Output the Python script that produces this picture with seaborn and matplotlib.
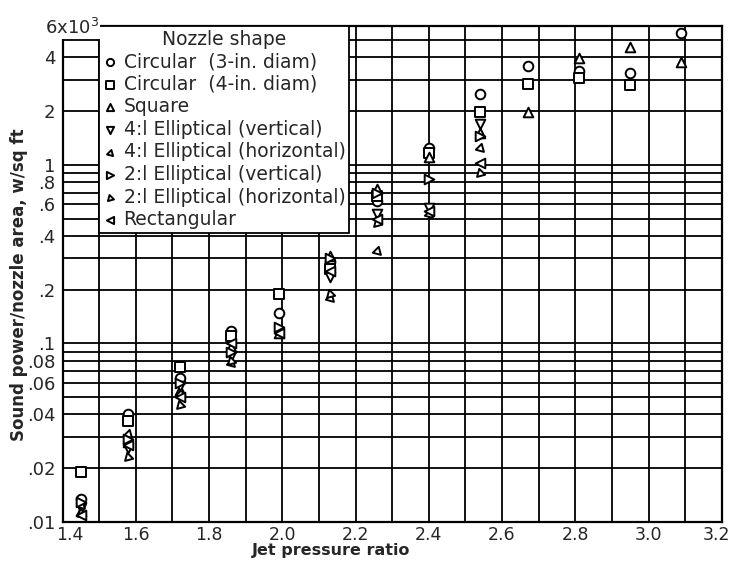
import numpy as np
import pandas as pd
import matplotlib
matplotlib.use("Agg")
import matplotlib.pyplot as plt
import matplotlib.transforms as mtrans
import seaborn as sns

# jet pressure ratios where data were taken
pressure_ratio = [1.45, 1.58, 1.72, 1.86, 1.99, 2.13, 2.26, 2.40, 2.54, 2.67, 2.81, 2.95, 3.09]

# sound power / nozzle area, units of 10^3 w/sq ft
nan = np.nan
circ_3in = [0.0135, 0.040, 0.064, 0.118, 0.149, 0.285, 0.63, 1.25, 2.5, 3.6, 3.35, 3.25, 5.5]
circ_4in = [0.019, 0.037, 0.074, 0.110, 0.188, 0.26, 0.67, 1.17, 1.98, 2.85, 3.05, 2.8, nan]
square = [0.0115, 0.028, 0.055, 0.095, 0.114, 0.31, 0.73, 1.11, 1.5, 1.98, 3.95, 4.6, 3.75]
ell41_vert = [0.012, 0.026, 0.058, 0.085, nan, 0.235, 0.53, 0.57, 1.7, nan, nan, nan, nan]
ell41_horiz = [0.0125, 0.031, 0.052, 0.078, nan, 0.18, 0.33, 0.53, 1.25, nan, nan, nan, nan]
ell21_vert = [0.013, 0.029, 0.060, 0.090, 0.123, 0.30, 0.70, 0.83, 1.45, nan, nan, nan, nan]
ell21_horiz = [0.0112, 0.023, 0.045, 0.080, nan, 0.19, 0.47, nan, 0.90, nan, nan, nan, nan]
rectangular = [0.011, 0.027, 0.050, 0.100, 0.114, 0.255, 0.50, 0.55, 1.03, nan, nan, nan, nan]

shape_names = ["Circular  (3-in. diam)", "Circular  (4-in. diam)", "Square",
               "4:l Elliptical (vertical)", "4:l Elliptical (horizontal)",
               "2:l Elliptical (vertical)", "2:l Elliptical (horizontal)", "Rectangular"]
shape_values = [circ_3in, circ_4in, square, ell41_vert, ell41_horiz,
                ell21_vert, ell21_horiz, rectangular]
shape_markers = ["o", "s", "^", "v", (3, 0, 225), ">", (3, 0, 135), "<"]

ytick_vals = [0.01, 0.02, 0.04, 0.06, 0.08, 0.1, 0.2, 0.4, 0.6, 0.8, 1, 2, 4]
ytick_text = [".01", ".02", ".04", ".06", ".08", ".1", ".2", ".4", ".6", ".8", "1", "2", "4"]
xtick_vals = [1.4, 1.6, 1.8, 2.0, 2.2, 2.4, 2.6, 2.8, 3.0, 3.2]
xtick_text = ["1.4", "1.6", "1.8", "2.0", "2.2", "2.4", "2.6", "2.8", "3.0", "3.2"]

sns.set_style("white")
plt.rcParams["font.family"] = ["DejaVu Sans"]

fig = plt.figure(figsize=(7.32, 5.63), dpi=100)
ax = fig.add_axes([0.0854, 0.0728, 0.9006, 0.8812])

for name, vals, mk in zip(shape_names, shape_values, shape_markers):
    df = pd.DataFrame({"pr": pressure_ratio, "w": vals}).dropna()
    sns.scatterplot(data=df, x="pr", y="w", marker=mk, s=48, color="black",
                    facecolor="white", edgecolor="black", linewidth=1.4,
                    label=name, ax=ax, zorder=3)

ax.set_yscale("log")
ax.set_xlim(1.4, 3.2)
ax.set_ylim(0.01, 6)

# hand-ruled style grid: every 0.1 in x, every minor step in y
for xv in np.arange(1.4, 3.21, 0.1):
    ax.axvline(xv, color="black", lw=1.3, zorder=1)
grid_y = [m * 10.0 ** d for d in (-2, -1, 0) for m in range(1, 10)]
for yv in grid_y:
    if yv <= 6:
        ax.axhline(yv, color="black", lw=1.3, zorder=1)

ax.set_yticks(ytick_vals)
ax.set_yticklabels(ytick_text)
ax.yaxis.set_minor_locator(matplotlib.ticker.NullLocator())
ax.set_xticks(xtick_vals)
ax.set_xticklabels(xtick_text)
ax.tick_params(length=0, labelsize=13)
ax.tick_params(axis="x", pad=3, labelsize=12.5)
ax.tick_params(axis="y", pad=5)

# nudge the end labels so they stay inside the sheet
xl = ax.get_xticklabels()
xl[0].set_transform(xl[0].get_transform() + mtrans.ScaledTranslation(5 / 72, 0, fig.dpi_scale_trans))
xl[-1].set_transform(xl[-1].get_transform() + mtrans.ScaledTranslation(-4 / 72, 0, fig.dpi_scale_trans))

# top label carries the multiplier
fig.text(45 / 732, 1 - 34 / 563, "6x10$^3$", fontsize=13, ha="left", va="baseline",
         bbox=dict(facecolor="white", edgecolor="none", pad=0.5), zorder=10)

for sp in ax.spines.values():
    sp.set_color("black")
    sp.set_linewidth(1.6)

ax.set_xlabel("Jet pressure ratio", fontsize=11.5, fontweight="bold")
ax.set_ylabel("Sound power/nozzle area, w/sq ft", fontsize=12, fontweight="bold")
ax.xaxis.set_label_coords(0.407, -0.043)
ax.yaxis.set_label_coords(-0.052, 0.478)

leg = ax.legend(title="Nozzle shape", loc="upper left", bbox_to_anchor=(0.0556, 1.0),
                fontsize=13.5, title_fontsize=13.5, frameon=True, fancybox=False,
                framealpha=1, edgecolor="black", borderaxespad=0, borderpad=0.2,
                handletextpad=0.3, handlelength=0.8, labelspacing=0.19, markerscale=0.75)
leg.get_frame().set_linewidth(1.3)
leg.set_zorder(5)

fig.savefig("out.png", dpi=100)
